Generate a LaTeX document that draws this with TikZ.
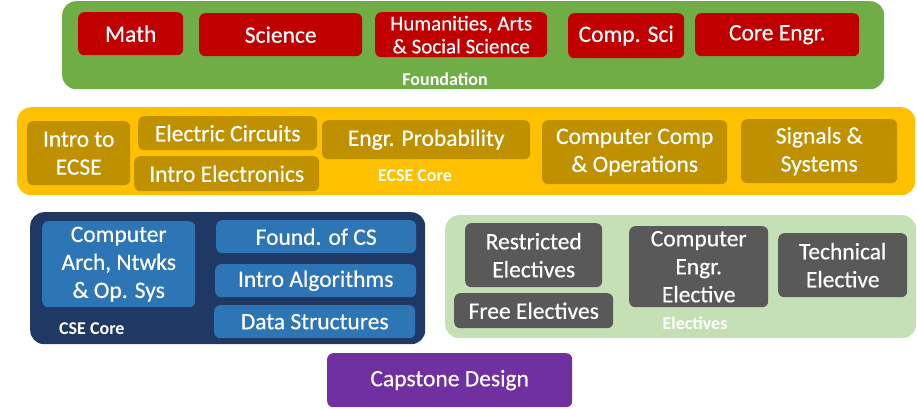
\documentclass[tikz,border=0pt]{standalone}
\usepackage{fontspec}
\setmainfont{Carlito}
\newfontfamily\coursefont{Carlito}[FakeBold=0.35]
\definecolor{fgreen}{HTML}{70AD47}
\definecolor{fred}{HTML}{C00000}
\definecolor{eyellow}{HTML}{FFC000}
\definecolor{egold}{HTML}{BF9000}
\definecolor{cnavy}{HTML}{203864}
\definecolor{cblue}{HTML}{2E75B6}
\definecolor{elgreen}{HTML}{C5E0B4}
\definecolor{egray}{HTML}{595959}
\definecolor{cpurple}{HTML}{7030A0}
\tikzset{
  group/.style={rounded corners=14pt, inner sep=0pt, anchor=north west},
  course/.style={rounded corners=6pt, inner sep=0pt, anchor=north west, text=white, align=center, font=\coursefont\fontsize{23.5}{28}\selectfont},
  grouplabel/.style={text=white, font=\bfseries\fontsize{18}{20}\selectfont, inner sep=0pt}
}
\newcommand{\bx}[7]{% name, style fill, x1, y1, x2, y2, text
  \node[course, fill=#2, minimum width={(#5)-(#3)}, minimum height={(#6)-(#4)}] (#1) at (#3,#4) {#7};}
\begin{document}
\begin{tikzpicture}[x=1pt,y=-1pt]
\useasboundingbox (0,0) rectangle (917,409);
% Foundation
\node[group, fill=fgreen, minimum width=822, minimum height=88] (found) at (62,1) {};
\bx{math}{fred}{78}{12}{183}{55}{Math}
\bx{sci}{fred}{199}{13}{362}{56}{Science}
\node[course, fill=fred, minimum width=172, minimum height=45, font=\coursefont\fontsize{21}{24}\selectfont] (hum) at (375,12) {Humanities, Arts\\[-1pt]\& Social Science};
\bx{csci}{fred}{568}{13}{684}{58}{Comp. Sci}
\bx{core}{fred}{695}{13}{859}{56}{Core Engr.}
\node[grouplabel] (foundlbl) at (445,79) {Foundation};
% ECSE Core
\node[group, fill=eyellow, minimum width=898, minimum height=88] (ecse) at (17,107) {};
\bx{iecse}{egold}{27}{121}{130}{185}{Intro to\\ECSE}
\bx{circ}{egold}{138}{116}{317}{150}{Electric Circuits}
\bx{elec}{egold}{134}{156}{319}{191}{Intro Electronics}
\bx{prob}{egold}{322}{120}{530}{159}{Engr. Probability}
\bx{comp}{egold}{542}{120}{727}{184}{Computer Comp\\\& Operations}
\bx{sig}{egold}{741}{119}{897}{183}{Signals \&\\Systems}
\node[grouplabel] (ecselbl) at (415,176) {ECSE Core};
% CSE Core
\node[group, fill=cnavy, minimum width=395, minimum height=132] (cse) at (30,212) {};
\bx{arch}{cblue}{42}{221}{195}{307}{Computer\\Arch, Ntwks\\\& Op. Sys}
\bx{fcs}{cblue}{216}{220}{416}{253}{Found. of CS}
\bx{alg}{cblue}{215}{264}{416}{297}{Intro Algorithms}
\bx{ds}{cblue}{214}{305}{415}{338}{Data Structures}
\node[grouplabel, anchor=west] (cselbl) at (59,329) {CSE Core};
% Electives
\node[group, fill=elgreen, minimum width=471, minimum height=123] (elect) at (445,215) {};
\bx{restr}{egray}{465}{223}{602}{287}{Restricted\\Electives}
\bx{free}{egray}{454}{293}{613}{328}{Free Electives}
\bx{cee}{egray}{629}{226}{768}{307}{Computer\\Engr.\\Elective}
\bx{tech}{egray}{778}{233}{907}{297}{Technical\\Elective}
\node[grouplabel] (electlbl) at (695,323) {Electives};
% Capstone
\bx{cap}{cpurple}{327}{353}{572}{407}{Capstone Design}
\end{tikzpicture}
\end{document}
